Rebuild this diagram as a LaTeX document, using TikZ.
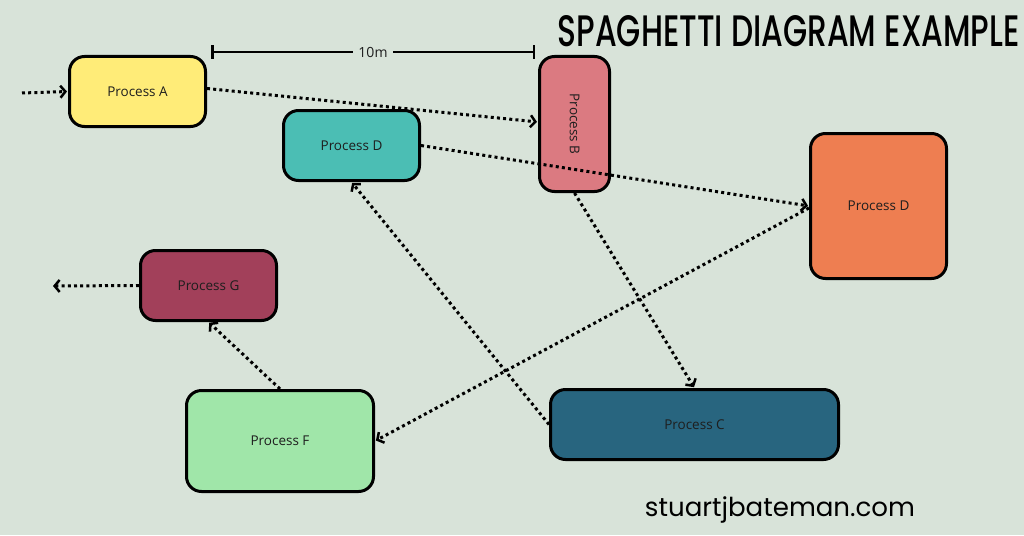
\documentclass[tikz,border=0pt]{standalone}
\usepackage{fontspec}
\setmainfont{Open Sans}
\newfontfamily\titlefont{Poppins}[UprightFont=* Medium]
\newfontfamily\webfont{Poppins}
\usetikzlibrary{arrows.meta}
\definecolor{bg}{HTML}{D8E3D9}
\definecolor{cA}{HTML}{FFEC78}
\definecolor{cDt}{HTML}{4BBEB4}
\definecolor{cB}{HTML}{DB7A81}
\definecolor{cDo}{HTML}{EE7E51}
\definecolor{cG}{HTML}{A2405A}
\definecolor{cF}{HTML}{A0E6A9}
\definecolor{cC}{HTML}{28657F}
\definecolor{txt}{HTML}{1E1E1E}
\tikzset{
  proc/.style={draw=black, line width=3pt, rounded corners=15pt, text=txt,
    font=\fontsize{13.5}{15}\selectfont, inner sep=0pt},
  flow/.style={line width=3pt, dash pattern=on 3pt off 3.2pt,
    -{Straight Barb[length=5pt,width=12pt,line width=2.5pt]}, shorten >=1pt},
  scalebar/.style={line width=2.5pt, {Bar[width=13pt,line width=2.5pt]}-{Bar[width=13pt,line width=2.5pt]}},
}
\begin{document}
\begin{tikzpicture}[x=1pt,y=-1pt]
\fill[bg] (0,0) rectangle (1024,535);
\useasboundingbox (0,0) rectangle (1024,535);

% title and footer
\node[anchor=north east, inner sep=0pt] (title) at (1020,15)
  {\resizebox{462pt}{31pt}{\titlefont SPAGHETTI DIAGRAM EXAMPLE}};
\node[anchor=base, inner sep=0pt] (web) at (780,516)
  {\resizebox{270pt}{!}{\webfont stuartjbateman.com}};

% nodes
\node[proc, fill=cA, minimum width=136pt, minimum height=70pt] (A) at (137.5,91.5) {Process A};
\node[proc, fill=cDt, minimum width=136pt, minimum height=70pt] (Dt) at (351.5,145.5) {Process D};
\node[proc, fill=cB, minimum width=70pt, minimum height=135pt] (B) at (574.5,124) {\rotatebox{-90}{Process B}};
\node[proc, fill=cDo, minimum width=136pt, minimum height=145pt] (Do) at (878.5,206) {Process D};
\node[proc, fill=cG, minimum width=136pt, minimum height=70pt] (G) at (208.5,285.5) {Process G};
\node[proc, fill=cF, minimum width=187pt, minimum height=101pt] (F) at (280,441) {Process F};
\node[proc, fill=cC, minimum width=288pt, minimum height=70pt] (C) at (694.5,424.5) {Process C};

% scale bar
\coordinate (s1) at (211,52);
\coordinate (s2) at (535,52);
\draw[scalebar] (s1) -- node[fill=bg, inner xsep=5pt, inner ysep=1pt, font=\fontsize{14}{16}\selectfont, text=txt] (ten) {10m} (s2);

% connectors
\coordinate (in) at (22,93);
\coordinate (out) at (52,286);
\draw[flow] (in) -- (A.west);
\draw[flow] ([yshift=3pt]A.east) -- ([yshift=2pt]B.west);
\draw[flow] (Dt.east) -- (Do.west);
\draw[flow] (B.south) -- (C.north);
\draw[flow] (C.west) -- (Dt.south);
\draw[flow] ([yshift=-2pt]Do.west) -- (F.east);
\draw[flow] (F.north) -- (G.south);
\draw[flow] (G.west) -- (out);
\end{tikzpicture}
\end{document}
